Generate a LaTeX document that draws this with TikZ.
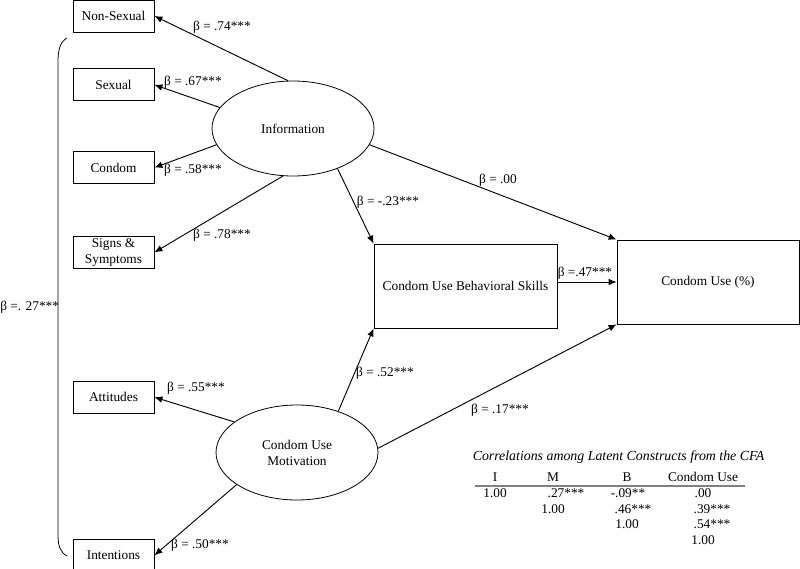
\documentclass[tikz,border=0pt]{standalone}
\usepackage{fontspec}
\setmainfont{Liberation Serif}
\usepackage{tikz}
\usetikzlibrary{positioning}
\usetikzlibrary{shapes.geometric,arrows.meta}

\tikzset{
  box/.style={draw, rectangle, inner sep=1pt, align=center, line width=0.6pt},
  item/.style={box, minimum width=60.75pt, minimum height=24pt},
  latent/.style={draw, ellipse, inner sep=0pt, align=center, line width=0.6pt,
    minimum width=121.5pt, minimum height=71.25pt},
  coef/.style={inner sep=0pt},
  cell/.style={inner sep=0pt, text height=7pt, text depth=2pt},
  effect/.style={-{Latex[length=6pt,width=5pt]}, line width=0.7pt}
}

\begin{document}
\begin{tikzpicture}[x=0.75pt, y=-0.75pt]
    \useasboundingbox (0,0) rectangle (800,568);

    \node(info) [latent] at (293,128.5) {Information};
    \node(motiv) [latent] at (297,452.5) {Condom Use\\Motivation};
    \node(skills) [box, minimum width=137.25pt, minimum height=63pt] at (465.5,286) {Condom Use Behavioral Skills};
    \node(use) [box, minimum width=136.5pt, minimum height=63pt] at (708,282) {Condom Use (\%)};

    \node(nonsex) [item] at (113.5,16) {Non-Sexual};
    \node(sexual) [item, below=27pt of nonsex] {Sexual};
    \node(condom) [item, below=37.5pt of sexual] {Condom};
    \node(signs) [item, below=39pt of condom] {Signs \&\\Symptoms};
    \node(attit) [item, below=84pt of signs] {Attitudes};
    \node(intent) [item, below=94pt of attit] {Intentions};

    \draw[effect](info.96) -- (nonsex.east);
    \draw[effect](info.164) -- (sexual.east);
    \draw[effect](info.192) -- (condom.east);
    \draw[effect](info.258) -- (signs.east);
    \draw[effect](info.318) -- (skills.north west);
    \draw[effect](info.348) -- (use.north west);
    \draw[effect](skills.east |- use.west) -- (use.west);
    \draw[effect](motiv.154) -- (attit.east);
    \draw[effect](motiv.208) -- (intent.east);
    \draw[effect](motiv.45) -- (skills.south west);
    \draw[effect](motiv.3) -- (use.south west);

    % bracket joining the indicators
    \draw[line width=0.6pt] (67,38) .. controls (60,42) and (58,50) .. (58,62)
        -- (58,534) .. controls (58,546) and (60,552) .. (67,556);
    \node(lBracket) [coef, anchor=west] at (0,307) {β =. 27***};

    \node(lNonsex) [coef] at (222,27) {β = .74***};
    \node(lSexual) [coef] at (193,82) {β = .67***};
    \node(lCondom) [coef] at (193,170) {β = .58***};
    \node(lSigns) [coef] at (222,235) {β = .78***};
    \node(lInfoSk) [coef] at (388,202) {β = -.23***};
    \node(lInfoUse) [coef] at (498,180) {β = .00};
    \node(lSkUse) [coef] at (585,273) {β =.47***};
    \node(lMotSk) [coef] at (385,373) {β = .52***};
    \node(lMotUse) [coef] at (500,410) {β = .17***};
    \node(lAttit) [coef] at (196,388) {β = .55***};
    \node(lIntent) [coef] at (200,545) {β = .50***};

    % correlation table
    \node(title) [coef, font=\itshape\fontsize{10.4}{12}\selectfont] at (618.5,457) {Correlations among Latent Constructs from the CFA};
    \node(hI) [cell] at (495,478) {I};
    \node(hM) [cell] at (553,478) {M};
    \node(hB) [cell] at (627,478) {B};
    \node(hC) [cell] at (703,478) {Condom Use};
    \draw[gray, line width=1pt] (475,486) -- (745,486);
    \node(c11) [cell] at (495,494) {1.00};
    \node(c12) [cell] at (566,494) {.27***};
    \node(c13) [cell] at (628,494) {-.09**};
    \node(c14) [cell] at (703,494) {.00};
    \node(c22) [cell] at (553,510) {1.00};
    \node(c23) [cell] at (633,510) {.46***};
    \node(c24) [cell] at (712,510) {.39***};
    \node(c33) [cell] at (627,525) {1.00};
    \node(c34) [cell] at (712,525) {.54***};
    \node(c44) [cell] at (703,541) {1.00};
\end{tikzpicture}
\end{document}
